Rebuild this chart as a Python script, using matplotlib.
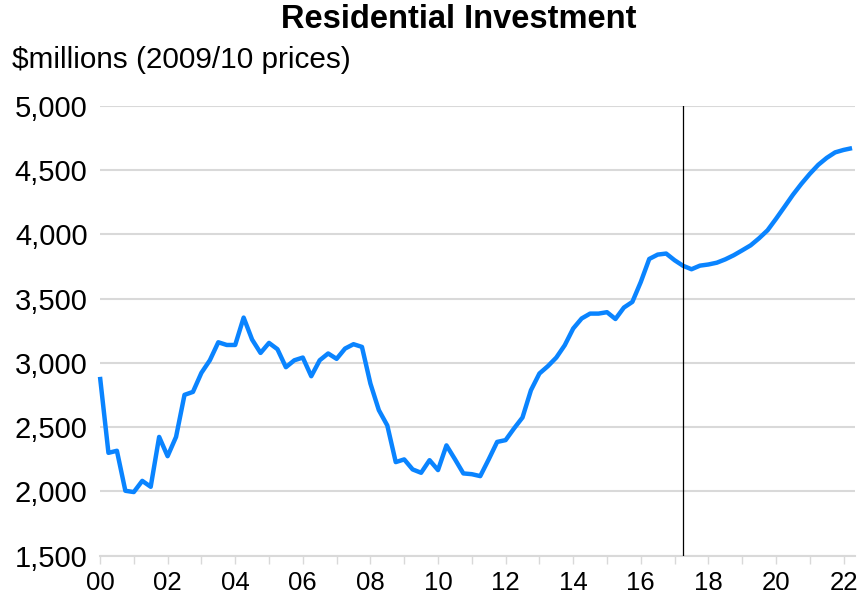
import matplotlib
matplotlib.use("Agg")
import matplotlib.pyplot as plt
from matplotlib.ticker import FixedLocator, FuncFormatter

# ---- data (quarterly, 2000Q1 .. 2022Q2) ----
start_year = 2000
values = [
    2891, 2300, 2316, 2005, 1995, 2082, 2036, 2424, 2274, 2424,
    2751, 2774, 2922, 3020, 3160, 3139, 3139, 3352, 3181, 3077,
    3155, 3106, 2966, 3020, 3041, 2896, 3020, 3073, 3031, 3111,
    3145, 3124, 2839, 2632, 2513, 2228, 2249, 2171, 2145, 2243,
    2166, 2358, 2251, 2140, 2134, 2119, 2249, 2385, 2399, 2490,
    2575, 2787, 2917, 2974, 3041, 3137, 3267, 3345, 3383, 3383,
    3394, 3341, 3430, 3474, 3629, 3808, 3842, 3850, 3798, 3755,
    3728, 3756, 3765, 3779, 3805, 3837, 3875, 3914, 3969, 4031,
    4120, 4213, 4307, 4392, 4470, 4540, 4594, 4637, 4656, 4670,
]
dates = [start_year + i / 4 for i in range(len(values))]
forecast_start = 2017.25

y_ticks = [1500, 2000, 2500, 3000, 3500, 4000, 4500, 5000]
x_label_years = list(range(2000, 2023, 2))
x_tick_years = list(range(2000, 2023))

title = "Residential Investment"
subtitle = "$millions (2009/10 prices)"

# ---- figure ----
plt.rcParams['font.family'] = ['Liberation Sans', 'DejaVu Sans']
W, H = 865, 597
fig = plt.figure(figsize=(W / 100, H / 100), dpi=100)
ax = fig.add_axes([100 / W, 1 - 555.7 / H, 755 / W, (555.7 - 105.7) / H])

grid_col = '#d9d9d9'
ax.plot(dates, values, color='#0a84ff', lw=3.2, solid_joinstyle='round',
        solid_capstyle='butt', zorder=3, clip_on=False)
ax.axvline(forecast_start, color='black', lw=0.9, zorder=4)

ax.set_ylim(1500, 5000)
ax.set_xlim(2000, 2000 + 755 / 33.8)
ax.yaxis.set_major_locator(FixedLocator(y_ticks))
ax.yaxis.set_major_formatter(FuncFormatter(lambda v, p: f"{int(v):,}"))
ax.grid(axis='y', color=grid_col, lw=1.5, zorder=0)

ax.xaxis.set_major_locator(FixedLocator(x_label_years))
ax.xaxis.set_minor_locator(FixedLocator(x_tick_years))
ax.xaxis.set_major_formatter(FuncFormatter(lambda v, p: f"{int(round(v)) % 100:02d}"))

for s in ['top', 'right', 'left']:
    ax.spines[s].set_visible(False)
ax.spines['bottom'].set_color(grid_col)
ax.spines['bottom'].set_linewidth(1.5)

ax.tick_params(axis='y', length=0, pad=9, labelsize=21)
ax.tick_params(axis='x', which='both', length=6, width=1, color=grid_col, pad=5)
ax.tick_params(axis='x', which='major', labelsize=18.5)

fig.text(459 / W, 1 - 20 / H, title, ha='center', va='center',
         fontsize=23.5, fontweight='bold')
fig.text(12 / W, 1 - 60 / H, subtitle, ha='left', va='center', fontsize=21.4)

fig.savefig('out.png', dpi=100)
